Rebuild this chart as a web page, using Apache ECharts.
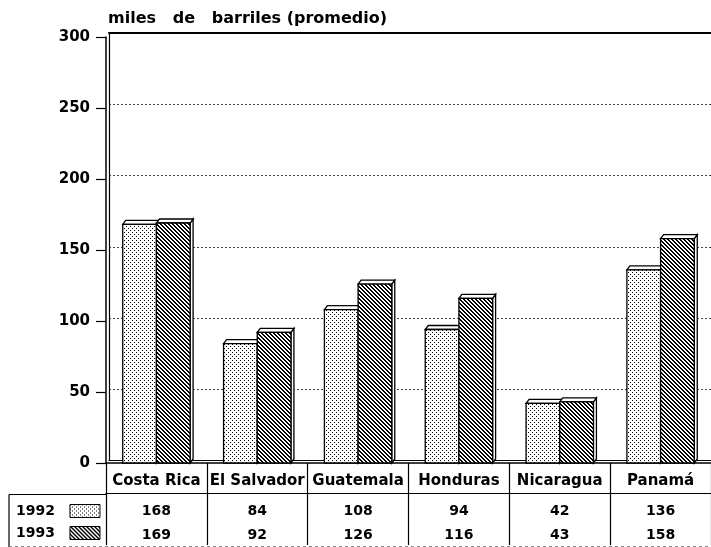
<!DOCTYPE html>
<html>
<head>
<meta charset="utf-8">
<script src="https://cdn.jsdelivr.net/npm/echarts@6/dist/echarts.min.js"></script>
<style>
html,body{margin:0;padding:0;background:#fff;}
#chart{width:711px;height:547px;}
</style>
</head>
<body>
<div id="chart"></div>
<script>
// ---- data ----
var categories = ['Costa Rica', 'El Salvador', 'Guatemala', 'Honduras', 'Nicaragua', 'Panamá'];
var seriesNames = ['1992', '1993'];
var values1992 = [168, 84, 108, 94, 42, 136];
var values1993 = [169, 92, 126, 116, 43, 158];
var yTicks = [0, 50, 100, 150, 200, 250, 300];
var titleText = 'miles   de   barriles (promedio)';

// ---- patterns ----
function makeDots() {
  var c = document.createElement('canvas');
  c.width = 4; c.height = 4;
  var g = c.getContext('2d');
  g.fillStyle = '#fff'; g.fillRect(0, 0, 4, 4);
  g.fillStyle = '#000';
  g.fillRect(0, 0, 1, 1);
  g.fillRect(2, 2, 1, 1);
  return c;
}
function makeHatch() {
  var p = 4, c = document.createElement('canvas');
  c.width = p; c.height = p;
  var g = c.getContext('2d');
  g.fillStyle = '#fff'; g.fillRect(0, 0, p, p);
  g.fillStyle = '#000';
  for (var x = 0; x < p; x++) for (var y = 0; y < p; y++) {
    if ((((x - y) % p) + p) % p < 2) g.fillRect(x, y, 1, 1);
  }
  return c;
}
var dotPattern = { image: makeDots(), repeat: 'repeat' };
var hatchPattern = { image: makeHatch(), repeat: 'repeat' };

var FONT = '"DejaVu Sans", Arial, sans-serif';
var DX = 3, DY = 4;

function makeRender(which, pattern) {
  return function (params, api) {
    var i = api.value(0), v = api.value(1);
    var base = api.coord([i, 0]);
    var top = api.coord([i, v]);
    var bw = api.size([1, 0])[0];
    var w = bw * 0.334;
    var x0 = which === 0 ? base[0] - w : base[0];
    var ty = top[1], by = base[1];
    var stroke = { stroke: '#000', lineWidth: 1.3 };
    return {
      type: 'group',
      children: [
        { type: 'polygon', shape: { points: [[x0 + w, ty], [x0 + w + DX, ty - DY], [x0 + w + DX, by - DY], [x0 + w, by]] },
          style: Object.assign({ fill: '#fff' }, stroke) },
        { type: 'polygon', shape: { points: [[x0, ty], [x0 + DX, ty - DY], [x0 + w + DX, ty - DY], [x0 + w, ty]] },
          style: Object.assign({ fill: '#fff' }, stroke) },
        { type: 'rect', shape: { x: x0, y: ty, width: w, height: by - ty },
          style: Object.assign({ fill: pattern }, stroke) }
      ]
    };
  };
}

var chart = echarts.init(document.getElementById('chart'), null, { renderer: 'canvas' });

var option = {
  backgroundColor: '#fff',
  animation: false,
  title: {
    text: titleText, left: 108, top: 11, padding: 0,
    textStyle: { fontFamily: FONT, fontWeight: 'bold', fontSize: 16, color: '#000' }
  },
  legend: {
    orient: 'vertical', left: 16, top: 504, padding: 0,
    align: 'right', itemWidth: 30, itemHeight: 13, itemGap: 8,
    textStyle: { fontFamily: FONT, fontWeight: 'bold', fontSize: 14, color: '#000', padding: [2, 10, 0, 0] },
    data: [
      { name: seriesNames[0], icon: 'rect', itemStyle: { color: dotPattern, borderColor: '#000', borderWidth: 1 } },
      { name: seriesNames[1], icon: 'rect', itemStyle: { color: hatchPattern, borderColor: '#000', borderWidth: 1 } }
    ]
  },
  grid: [
    { left: 106, top: 37, width: 611, height: 427.5 },
    { left: 109, top: 33, width: 610, height: 427.5 }
  ],
  xAxis: [
    { gridIndex: 0, type: 'category', data: categories, position: 'bottom',
      axisLine: { lineStyle: { color: '#000', width: 1.5 } },
      axisTick: { show: true, interval: 0, length: 30, lineStyle: { color: '#000', width: 1.2 } },
      axisLabel: { interval: 0, margin: 11, fontFamily: FONT, fontWeight: 'bold', fontSize: 15, color: '#000' },
      splitLine: { show: false } },
    { gridIndex: 0, type: 'category', data: categories, position: 'bottom', offset: 30,
      axisLine: { lineStyle: { color: '#000', width: 1.2 } },
      axisTick: { show: true, interval: 0, length: 52, lineStyle: { color: '#000', width: 1.2 } },
      axisLabel: { interval: 0, margin: 6, fontFamily: FONT, fontWeight: 'bold', fontSize: 14, color: '#000', lineHeight: 24,
        formatter: function (v, idx) { return values1992[idx] + '\n' + values1993[idx]; } },
      splitLine: { show: false } },
    { gridIndex: 1, type: 'category', data: categories, position: 'bottom',
      axisLine: { lineStyle: { color: '#000', width: 1.2 } },
      axisTick: { show: false }, axisLabel: { show: false }, splitLine: { show: false } },
    { gridIndex: 1, type: 'category', data: categories, position: 'top',
      axisLine: { lineStyle: { color: '#000', width: 2 } },
      axisTick: { show: false }, axisLabel: { show: false }, splitLine: { show: false } }
  ],
  yAxis: [
    { gridIndex: 0, type: 'value', min: yTicks[0], max: yTicks[yTicks.length - 1], interval: 50,
      axisLine: { show: true, lineStyle: { color: '#000', width: 1.5 } },
      axisTick: { show: true, length: 10, lineStyle: { color: '#000', width: 1.2 } },
      axisLabel: { margin: 16, fontFamily: FONT, fontWeight: 'bold', fontSize: 15, color: '#000', padding: [3, 0, 0, 0] },
      splitLine: { show: false } },
    { gridIndex: 1, type: 'value', min: yTicks[0], max: yTicks[yTicks.length - 1], interval: 50,
      axisLine: { show: true, lineStyle: { color: '#000', width: 1.2 } },
      axisTick: { show: false }, axisLabel: { show: false },
      splitLine: { show: true, lineStyle: { color: '#444', width: 1, type: [2, 2] } } }
  ],
  series: [
    { name: seriesNames[0], type: 'custom', xAxisIndex: 0, yAxisIndex: 0,
      itemStyle: { color: dotPattern, borderColor: '#000' },
      renderItem: makeRender(0, dotPattern),
      encode: { x: 0, y: 1 },
      data: values1992.map(function (v, i) { return [i, v]; }) },
    { name: seriesNames[1], type: 'custom', xAxisIndex: 0, yAxisIndex: 0,
      itemStyle: { color: hatchPattern, borderColor: '#000' },
      renderItem: makeRender(1, hatchPattern),
      encode: { x: 0, y: 1 },
      data: values1993.map(function (v, i) { return [i, v]; }) }
  ],
  graphic: [
    { type: 'line', shape: { x1: 9, y1: 494.5, x2: 106, y2: 494.5 }, style: { stroke: '#000', lineWidth: 1.2 } },
    { type: 'line', shape: { x1: 9, y1: 494.5, x2: 9, y2: 547 }, style: { stroke: '#000', lineWidth: 1.2 } },
    { type: 'line', shape: { x1: 9, y1: 546.5, x2: 711, y2: 546.5 }, style: { stroke: '#888', lineWidth: 1, lineDash: [3, 3] } }
  ]
};
chart.setOption(option);
</script>
</body>
</html>
